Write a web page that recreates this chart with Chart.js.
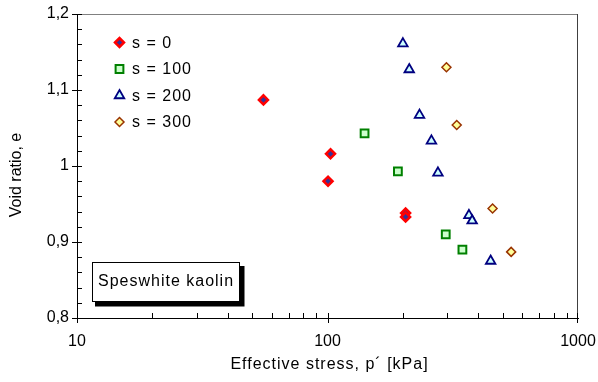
<!DOCTYPE html>
<html>
<head>
<meta charset="utf-8">
<script src="https://cdn.jsdelivr.net/npm/chart.js@4"></script>
<style>
  html, body { margin: 0; padding: 0; background: #fff; }
  #wrap { width: 598px; height: 382px; }
</style>
</head>
<body>
<div id="wrap"><canvas id="c" width="598" height="382"></canvas></div>
<script>
// Void ratio vs. effective stress for four suction levels
const seriesLabels = ['s = 0', 's = 100', 's = 200', 's = 300'];

const s0Stress = [55.5, 102.8, 100.5, 205, 205];
const s0Void   = [1.087, 1.016, 0.980, 0.938, 0.933];

const s100Stress = [140.6, 191, 296.5, 345.6];
const s100Void   = [1.043, 0.993, 0.910, 0.890];

const s200Stress = [200, 212, 233, 260, 276, 367, 378, 448];
const s200Void   = [1.161, 1.127, 1.067, 1.033, 0.991, 0.935, 0.928, 0.875];

const s300Stress = [298.4, 328, 456, 541];
const s300Void   = [1.130, 1.054, 0.944, 0.887];

const xTickValues = [10, 100, 1000];
const xTickLabels = ['10', '100', '1000'];
const yTickValues = [0.8, 0.9, 1.0, 1.1, 1.2];
const yTickLabels = ['0,8', '0,9', '1', '1,1', '1,2'];

const xTitle = 'Effective stress, p\u00b4 [kPa]';
const yTitle = 'Void ratio, e';
const boxText = 'Speswhite kaolin';

const FONT = '"Liberation Sans", Arial, Helvetica, sans-serif';

function pts(xs, ys) { return xs.map((x, i) => ({ x: x, y: ys[i] })); }

const datasets = [
  { label: seriesLabels[0], data: pts(s0Stress, s0Void), pointStyle: 'rectRot',
    backgroundColor: '#333399', borderColor: '#ff0000', borderWidth: 2.5, pointRadius: 4.5 },
  { label: seriesLabels[1], data: pts(s100Stress, s100Void), pointStyle: 'rect',
    backgroundColor: '#ccffcc', borderColor: '#008000', borderWidth: 2, pointRadius: 5.5 },
  { label: seriesLabels[2], data: pts(s200Stress, s200Void), pointStyle: 'triangle',
    backgroundColor: '#ccffff', borderColor: '#000080', borderWidth: 1.8, pointRadius: 5.5 },
  { label: seriesLabels[3], data: pts(s300Stress, s300Void), pointStyle: 'rectRot',
    backgroundColor: '#ffff99', borderColor: '#993300', borderWidth: 1.5, pointRadius: 4.5 }
];

// Inward minor ticks, crossing major ticks, and the top/right frame lines
const frameTicks = {
  id: 'frameTicks',
  beforeDatasetsDraw(chart) {
    const ctx = chart.ctx, a = chart.chartArea;
    const xs = chart.scales.x, ys = chart.scales.y;
    ctx.save();
    ctx.lineWidth = 1;
    ctx.strokeStyle = '#808080';
    ctx.beginPath();
    ctx.moveTo(a.left, a.top + 0.5); ctx.lineTo(a.right, a.top + 0.5);
    ctx.stroke();
    ctx.strokeStyle = '#404040';
    ctx.beginPath();
    ctx.moveTo(a.right - 0.5, a.top); ctx.lineTo(a.right - 0.5, a.bottom);
    ctx.stroke();

    ctx.strokeStyle = '#000';
    ctx.beginPath();
    for (let k = 0; k <= 20; k++) {
      const v = 0.8 + k * 0.02;
      const py = Math.round(ys.getPixelForValue(v)) + 0.5;
      const major = k % 5 === 0;
      ctx.moveTo(a.left - (major ? 5 : 0), py);
      ctx.lineTo(a.left + 5, py);
    }
    for (const dec of [10, 100]) {
      for (let m = 1; m <= 9; m++) {
        const px = Math.round(xs.getPixelForValue(dec * m)) + 0.5;
        const major = m === 1;
        ctx.moveTo(px, a.bottom + (major ? 5 : 0));
        ctx.lineTo(px, a.bottom - 5);
      }
    }
    const pEnd = Math.round(xs.getPixelForValue(1000)) - 0.5;
    ctx.moveTo(pEnd, a.bottom + 5); ctx.lineTo(pEnd, a.bottom - 5);
    ctx.stroke();
    ctx.restore();
  }
};

// Legend in the upper left of the plot, the label box and both axis titles
const overlay = {
  id: 'overlay',
  afterDatasetsDraw(chart) {
    const ctx = chart.ctx, a = chart.chartArea;
    ctx.save();
    ctx.font = '16px ' + FONT;
    ctx.textBaseline = 'middle';
    ctx.textAlign = 'left';
    if ('letterSpacing' in ctx) ctx.letterSpacing = '1px';
    chart.data.datasets.forEach((ds, i) => {
      const cx = 119.5, cy = 42.5 + i * 26.5;
      ctx.fillStyle = ds.backgroundColor;
      ctx.strokeStyle = ds.borderColor;
      ctx.lineWidth = ds.borderWidth;
      Chart.helpers.drawPoint(ctx, { pointStyle: ds.pointStyle, radius: ds.pointRadius, rotation: 0, borderWidth: ds.borderWidth }, cx, cy);
      ctx.fillStyle = '#000';
      ctx.fillText(ds.label, 132, cy + 1);
    });

    // label box with drop shadow
    ctx.fillStyle = '#000';
    ctx.fillRect(95, 266, 149.5, 40.5);
    ctx.fillStyle = '#fff';
    ctx.fillRect(92.5, 262.5, 147, 39);
    ctx.strokeStyle = '#000';
    ctx.lineWidth = 1;
    ctx.strokeRect(92.5, 262.5, 147, 39);
    ctx.fillStyle = '#000';
    ctx.fillText(boxText, 98, 282);

    // horizontal axis title
    ctx.textAlign = 'center';
    ctx.fillText(xTitle, (a.left + a.right) / 2 + 2, 365);

    // vertical axis title
    if ('letterSpacing' in ctx) ctx.letterSpacing = '0px';
    ctx.translate(17, 175);
    ctx.rotate(-Math.PI / 2);
    ctx.fillText(yTitle, 0, 0);
    ctx.restore();
  }
};

Chart.defaults.color = '#000';
Chart.defaults.font.family = FONT;

new Chart(document.getElementById('c'), {
  type: 'scatter',
  data: { datasets: datasets },
  options: {
    responsive: false,
    animation: false,
    devicePixelRatio: 1,
    layout: { padding: { top: 14, right: 20, left: 0, bottom: 0 } },
    plugins: { legend: { display: false }, tooltip: { enabled: false } },
    scales: {
      x: {
        type: 'logarithmic',
        min: 10, max: 1000,
        afterBuildTicks: s => { s.ticks = xTickValues.map(v => ({ value: v, major: true })); },
        afterFit: s => { s.height = 64; s.paddingLeft = 0; s.paddingRight = 0; },
        grid: { display: false, drawTicks: false },
        border: { display: true, color: '#000', width: 1 },
        ticks: {
          autoSkip: false, maxRotation: 0, padding: 14,
          font: { size: 16 },
          callback: (v, i) => xTickLabels[i]
        }
      },
      y: {
        min: 0.8, max: 1.2,
        afterBuildTicks: s => { s.ticks = yTickValues.map(v => ({ value: v })); },
        afterFit: s => { s.width = 77; s.paddingTop = 0; s.paddingBottom = 0; },
        grid: { display: false, drawTicks: false },
        border: { display: true, color: '#000', width: 1 },
        ticks: {
          padding: 8,
          font: { size: 16 },
          callback: (v, i) => yTickLabels[i]
        }
      }
    }
  },
  plugins: [frameTicks, overlay]
});
</script>
</body>
</html>
